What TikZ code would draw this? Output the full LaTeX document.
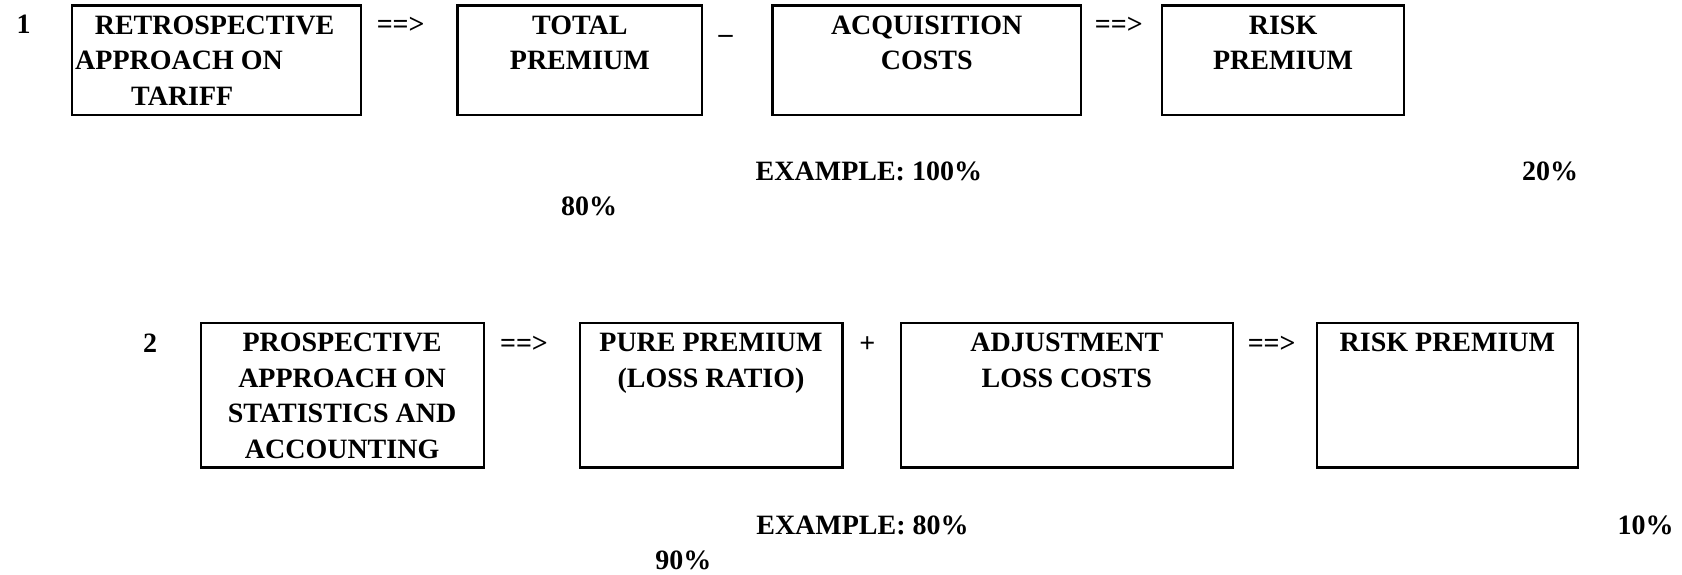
\documentclass[tikz,border=0pt]{standalone}
\usepackage{fontspec}
\setmainfont{Liberation Serif}
\usepackage{tikz}
\usetikzlibrary{positioning}

\begin{document}
\begin{tikzpicture}[
    x=0.5pt, y=-0.5pt,
    every node/.style={font=\bfseries\fontsize{14}{17.75}\selectfont, inner sep=0pt},
    box/.style={rectangle, draw=black, line width=1.1pt, anchor=north west, minimum height=54.6pt},
    tallbox/.style={box, minimum height=72.3pt},
    boxtxt/.style={align=center},
    sign/.style={anchor=base}
]
\useasboundingbox (0,0) rectangle (1682,574);

% row 1: retrospective approach
\node [sign] (one) at (23.6,33.7) {1};
\node [box, minimum width=144.4pt] (retro) at (70.8,4.3) {};
\node [box, minimum width=122.4pt, right=47.3pt of retro] (total) {};
\node [box, minimum width=154.2pt, right=34pt of total] (acq) {};
\node [box, minimum width=121.2pt, right=39.4pt of acq] (risk_a) {};

\node [align=left, below right=5.5pt and 0pt of retro.north west] (retro_t)
    {\hspace*{11.8pt}RETROSPECTIVE\\\hspace*{2pt}APPROACH ON\\\hspace*{30pt}TARIFF};
\node [boxtxt, below=5.5pt of total.north] (total_t) {TOTAL\\PREMIUM};
\node [boxtxt, below=5.5pt of acq.north] (acq_t) {ACQUISITION\\COSTS};
\node [boxtxt, below=5.5pt of risk_a.north] (risk_a_t) {RISK\\PREMIUM};

\node [sign] (imp_a) at (400.7,33.7) {==>};
\node [sign] (minus) at (725.7,33.7) {\_};
\node [sign] (imp_b) at (1118.8,33.7) {==>};

\node [sign] (ex_a) at (868.9,180.6) {EXAMPLE: 100\%};
\node [sign] (pct_a) at (1550,180.6) {20\%};
\node [sign] (pct_b) at (589,215) {80\%};

% row 2: prospective approach
\node [sign] (two) at (150.2,352) {2};
\node [tallbox, minimum width=141.5pt] (prosp) at (199.5,321.8) {};
\node [tallbox, minimum width=131.4pt, right=46.9pt of prosp] (pure) {};
\node [tallbox, minimum width=166pt, right=28.1pt of pure] (adj) {};
\node [tallbox, minimum width=130.6pt, right=40.9pt of adj] (risk_b) {};

\node [boxtxt, below=5.5pt of prosp.north] (prosp_t)
    {PROSPECTIVE\\APPROACH ON\\STATISTICS AND\\ACCOUNTING};
\node [boxtxt, below=5.5pt of pure.north] (pure_t) {PURE PREMIUM\\(LOSS RATIO)};
\node [boxtxt, below=5.5pt of adj.north] (adj_t) {ADJUSTMENT\\LOSS COSTS};
\node [boxtxt, below=5.5pt of risk_b.north] (risk_b_t) {RISK PREMIUM};

\node [sign] (imp_c) at (524,352) {==>};
\node [sign] (plus) at (867.3,352) {+};
\node [sign] (imp_d) at (1271.7,352) {==>};

\node [sign] (ex_b) at (862.5,534.6) {EXAMPLE: 80\%};
\node [sign] (pct_c) at (1645.5,534.6) {10\%};
\node [sign] (pct_d) at (683.3,569) {90\%};

\end{tikzpicture}
\end{document}
